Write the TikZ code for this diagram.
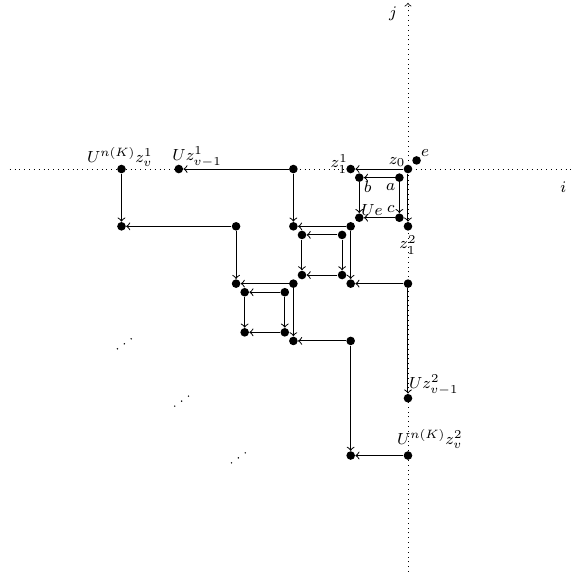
\documentclass[tikz,border=0pt]{standalone}
\usetikzlibrary{arrows}
\begin{document}
\begin{tikzpicture}[
  pt/.style={circle,fill=black,inner sep=0pt,minimum size=0.15cm},
  arr/.style={->,line width=0.5pt},
  lab/.style={font=\footnotesize,inner sep=0pt},
  tinydot/.style={fill=black}
]
\useasboundingbox (-7.12,-7.05) rectangle (2.88,2.95);
% axes
\draw[dotted,->] (-6.95,0) -- (3.1,0);
\draw[dotted,->] (0,-7.2) -- (0,2.9);
\node[lab] (ilab) at (2.71,-0.31) {$i$};
\node[lab] (jlab) at (-0.26,2.71) {$j$};
% first square
\node[pt] (z0) at (0,0) {};
\node[pt] (e) at (0.15,0.15) {};
\node[pt] (z11) at (-1,0) {};
\node[pt] (z12) at (0,-1) {};
\node[pt] (a) at (-0.15,-0.15) {};
\node[pt] (b) at (-0.85,-0.15) {};
\node[pt] (c) at (-0.15,-0.85) {};
\node[pt] (Ue) at (-0.85,-0.85) {};
\draw[arr] (z0) -- (z11);
\draw[arr] (z0) -- (z12);
\draw[arr] (a) -- (b);
\draw[arr] (a) -- (c);
\draw[arr] (b) -- (Ue);
\draw[arr] (c) -- (Ue);
% second square
\node[pt] (s2) at (-1,-1) {};
\node[pt] (s2l) at (-2,-1) {};
\node[pt] (s2d) at (-1,-2) {};
\node[pt] (s2a) at (-1.15,-1.15) {};
\node[pt] (s2b) at (-1.85,-1.15) {};
\node[pt] (s2c) at (-1.15,-1.85) {};
\node[pt] (s2e) at (-1.85,-1.85) {};
\draw[arr] (s2) -- (s2l);
\draw[arr] (s2) -- (s2d);
\draw[arr] (s2a) -- (s2b);
\draw[arr] (s2a) -- (s2c);
\draw[arr] (s2b) -- (s2e);
\draw[arr] (s2c) -- (s2e);
% third square
\node[pt] (s3) at (-2,-2) {};
\node[pt] (s3l) at (-3,-2) {};
\node[pt] (s3d) at (-2,-3) {};
\node[pt] (s3a) at (-2.15,-2.15) {};
\node[pt] (s3b) at (-2.85,-2.15) {};
\node[pt] (s3c) at (-2.15,-2.85) {};
\node[pt] (s3e) at (-2.85,-2.85) {};
\draw[arr] (s3) -- (s3l);
\draw[arr] (s3) -- (s3d);
\draw[arr] (s3a) -- (s3b);
\draw[arr] (s3a) -- (s3c);
\draw[arr] (s3b) -- (s3e);
\draw[arr] (s3c) -- (s3e);
% upper-left path
\node[pt] (p1) at (-2,0) {};
\node[pt] (p2) at (-4,0) {};
\node[pt] (p3) at (-5,0) {};
\node[pt] (p4) at (-5,-1) {};
\node[pt] (p5) at (-3,-1) {};
\draw[arr] (p1) -- (p2);
\draw[arr] (p1) -- (s2l);
\draw[arr] (p3) -- (p4);
\draw[arr] (p5) -- (p4);
\draw[arr] (p5) -- (s3l);
% lower-right path
\node[pt] (q1) at (0,-2) {};
\node[pt] (q2) at (0,-4) {};
\node[pt] (q3) at (-1,-3) {};
\node[pt] (q4) at (-1,-5) {};
\node[pt] (q5) at (0,-5) {};
\draw[arr] (q1) -- (s2d);
\draw[arr] (q1) -- (q2);
\draw[arr] (q3) -- (s3d);
\draw[arr] (q3) -- (q4);
\draw[arr] (q5) -- (q4);
% labels
\node[lab] (lz0) at (-0.19,0.12) {$z_0$};
\node[lab] (le) at (0.30,0.28) {$e$};
\node[lab] (lz11) at (-1.20,0.09) {$z_1^1$};
\node[lab] (lb) at (-0.70,-0.31) {$b$};
\node[lab] (la) at (-0.30,-0.31) {$a$};
\node[lab] (lUe) at (-0.63,-0.71) {$Ue$};
\node[lab] (lc) at (-0.30,-0.70) {$c$};
\node[lab] (lz12) at (0,-1.32) {$z_1^2$};
\node[lab] (lp3) at (-5.03,0.21) {$U^{n(K)}z_v^1$};
\node[lab] (lp2) at (-3.68,0.21) {$Uz_{v-1}^1$};
\node[lab] (lq2) at (0.45,-3.77) {$Uz_{v-1}^2$};
\node[lab] (lq5) at (0.38,-4.71) {$U^{n(K)}z_v^2$};
% diagonal dots
\foreach \cx/\cy in {-4.95/-3.05,-3.95/-4.05,-2.96/-5.04}{
  \foreach \k in {-1,0,1}{
    \fill[tinydot] (\cx+0.12*\k,\cy+0.087*\k) circle (0.4pt);
  }
}
\end{tikzpicture}
\end{document}
